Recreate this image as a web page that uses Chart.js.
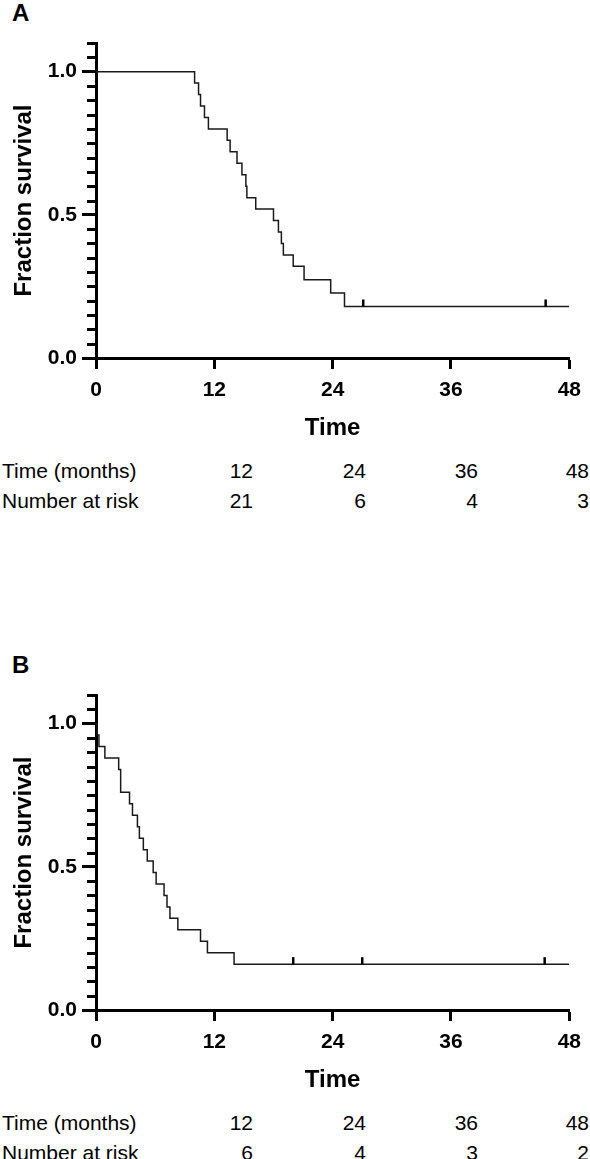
<!DOCTYPE html>
<html>
<head>
<meta charset="utf-8">
<script src="https://cdn.jsdelivr.net/npm/chart.js@4.4.1/dist/chart.umd.min.js"></script>
<style>
  body { margin: 0; background: #fff; font-family: 'Liberation Sans', Arial, sans-serif; }
  #page { position: relative; width: 590px; height: 1159px; overflow: hidden; }
  .panel-label { position: absolute; left: 12px; font-weight: bold; font-size: 24px; line-height: 1; color: #000; }
  canvas { position: absolute; left: 0; }
  .risk-row { position: absolute; left: 0; width: 590px; height: 21px; font-size: 21px; line-height: 1; color: #000; }
  .risk-row span { position: absolute; top: 0; white-space: nowrap; }
</style>
</head>
<body>
<div id="page">
  <div class="panel-label" style="top:1px">A</div>
  <canvas id="chart-a" width="590" height="443" style="top:0"></canvas>
  <div class="panel-label" style="top:653px">B</div>
  <canvas id="chart-b" width="590" height="443" style="top:652px"></canvas>
</div>
<script>
// Panel A - survival steps (months, fraction surviving)
const timesA = [0, 10.0, 10.4, 10.6, 11.0, 11.4, 13.3, 13.6, 14.3, 14.8, 15.2, 15.3, 16.2, 18.0, 18.5, 18.8, 19.0, 20.0, 21.1, 23.8, 25.2, 48];
const survA = [1, 0.96, 0.92, 0.88, 0.84, 0.80, 0.76, 0.72, 0.68, 0.64, 0.60, 0.56, 0.52, 0.48, 0.44, 0.40, 0.36, 0.32, 0.273, 0.227, 0.18, 0.18];
const censorTimesA = [27.1, 45.6];
const censorSurvA = [0.18, 0.18];

// Panel B
const timesB = [0, 0.1, 0.3, 0.9, 2.3, 2.5, 3.4, 3.7, 4.2, 4.4, 4.8, 5.2, 5.8, 6.1, 6.9, 7.2, 7.5, 8.3, 10.6, 11.3, 14.0, 48];
const survB = [1, 0.96, 0.92, 0.88, 0.84, 0.76, 0.72, 0.68, 0.64, 0.60, 0.56, 0.52, 0.48, 0.44, 0.40, 0.36, 0.32, 0.28, 0.24, 0.20, 0.16, 0.16];
const censorTimesB = [20.0, 27.0, 45.5];
const censorSurvB = [0.16, 0.16, 0.16];

// Number-at-risk tables
const riskTimes = [12, 24, 36, 48];
const riskA = [21, 6, 4, 3];
const riskB = [6, 4, 3, 2];

const FONT = "'Liberation Sans', Arial, sans-serif";
const Y_MAX = 1.1;
const Y_MINOR_STEP = 0.05;
const isMajor = v => Math.abs(v * 2 - Math.round(v * 2)) < 1e-6;

// short minor ticks on the y axis (every 0.05)
const minorTicks = {
    id: 'minorTicks',
    afterDraw(chart) {
        const y = chart.scales.y;
        const ctx = chart.ctx;
        const xEdge = chart.chartArea.left;
        ctx.save();
        ctx.strokeStyle = '#000';
        ctx.lineWidth = 3;
        const n = Math.round(Y_MAX / Y_MINOR_STEP);
        for (let k = 0; k <= n; k++) {
            const v = k * Y_MINOR_STEP;
            if (isMajor(v)) continue;
            const py = Math.round(y.getPixelForValue(v)) + 0.5;
            ctx.beginPath();
            ctx.moveTo(xEdge, py);
            ctx.lineTo(xEdge - 9, py);
            ctx.stroke();
        }
        ctx.restore();
    }
};

// censored observations drawn as small upward ticks
const censorMarks = {
    id: 'censorMarks',
    afterDatasetsDraw(chart, args, opts) {
        const { ctx, scales: { x, y } } = chart;
        ctx.save();
        ctx.strokeStyle = '#000';
        ctx.lineWidth = 2.5;
        opts.times.forEach((t, i) => {
            const px = x.getPixelForValue(t);
            const py = y.getPixelForValue(opts.levels[i]);
            ctx.beginPath();
            ctx.moveTo(px, py);
            ctx.lineTo(px, py - 7);
            ctx.stroke();
        });
        ctx.restore();
    }
};

function buildChart(id, times, surv, cTimes, cLevels) {
    return new Chart(document.getElementById(id), {
        type: 'line',
        data: {
            datasets: [{
                data: times.map((t, i) => ({ x: t, y: surv[i] })),
                stepped: 'before',
                borderColor: '#1a1a1a',
                borderWidth: 1.5,
                pointRadius: 0,
                fill: false
            }]
        },
        plugins: [minorTicks, censorMarks],
        options: {
            responsive: false,
            animation: false,
            devicePixelRatio: 1,
            layout: { padding: { top: 43, right: 17, bottom: 0, left: 0 } },
            plugins: {
                legend: { display: false },
                tooltip: { enabled: false },
                censorMarks: { times: cTimes, levels: cLevels }
            },
            scales: {
                x: {
                    type: 'linear',
                    min: 0,
                    max: 48,
                    afterFit: s => { s.height = 85; },
                    border: { display: true, width: 3, color: '#000' },
                    grid: { drawOnChartArea: false, drawTicks: true, tickLength: 11, tickWidth: 3, tickColor: '#000' },
                    ticks: {
                        stepSize: 12,
                        autoSkip: false,
                        maxRotation: 0,
                        padding: 9,
                        color: '#000',
                        font: { family: FONT, size: 21, weight: 'bold' }
                    },
                    title: {
                        display: true,
                        text: 'Time',
                        color: '#000',
                        padding: { top: 0, bottom: 0 },
                        font: { family: FONT, size: 24, weight: 'bold' }
                    }
                },
                y: {
                    min: 0,
                    max: Y_MAX,
                    afterFit: s => { s.width = 96; },
                    border: { display: true, width: 3, color: '#000' },
                    grid: {
                        drawOnChartArea: false,
                        drawTicks: true,
                        tickLength: 14,
                        tickWidth: 3,
                        tickColor: c => (c.tick && isMajor(c.tick.value)) ? '#000' : 'rgba(0,0,0,0)'
                    },
                    ticks: {
                        stepSize: Y_MINOR_STEP,
                        maxTicksLimit: 100,
                        autoSkip: false,
                        padding: 5,
                        color: '#000',
                        font: { family: FONT, size: 21, weight: 'bold' },
                        callback: v => isMajor(v) ? v.toFixed(1) : ''
                    },
                    title: {
                        display: true,
                        text: 'Fraction survival',
                        color: '#000',
                        padding: { top: 10, bottom: 0 },
                        font: { family: FONT, size: 24, weight: 'bold' }
                    }
                }
            }
        }
    });
}

const colRight = [253, 366, 478, 589];
const page = document.getElementById('page');

function buildRiskTable(top, values) {
    const rows = [['Time (months)', riskTimes], ['Number at risk', values]];
    rows.forEach(([label, nums], r) => {
        const row = document.createElement('div');
        row.className = 'risk-row';
        row.style.top = (top + r * 30) + 'px';
        let html = `<span style="left:2px">${label}</span>`;
        nums.forEach((n, i) => {
            html += `<span style="right:${590 - colRight[i]}px">${n}</span>`;
        });
        row.innerHTML = html;
        page.appendChild(row);
    });
}

buildChart('chart-a', timesA, survA, censorTimesA, censorSurvA);
buildChart('chart-b', timesB, survB, censorTimesB, censorSurvB);
buildRiskTable(460, riskA);
buildRiskTable(1112, riskB);
</script>
</body>
</html>
